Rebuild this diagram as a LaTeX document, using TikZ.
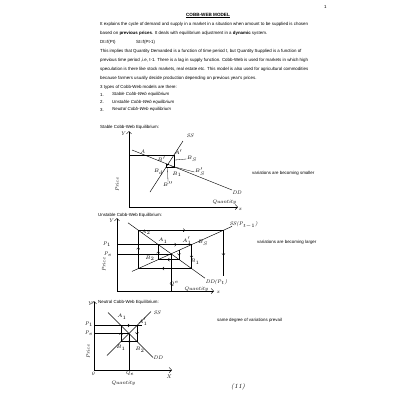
\documentclass[tikz,border=0pt]{standalone}
\usepackage{fontspec}
\newfontfamily\body{Liberation Sans}
\usetikzlibrary{arrows.meta,decorations.markings}
\tikzset{
  txt/.style={font=\body\fontsize{4.4}{5}\selectfont, anchor=west, inner sep=0pt},
  hw/.style={font=\itshape\fontsize{5.2}{6}\selectfont, inner sep=0.3pt},
  hwbig/.style={font=\itshape\fontsize{6.5}{7}\selectfont, inner sep=0.3pt},
  axis/.style={line width=0.5pt, -{Straight Barb[length=2.5pt]}},
  crv/.style={line width=0.45pt},
  web/.style={line width=0.4pt},
  thin/.style={line width=0.3pt},
  midarr/.style={postaction={decorate,decoration={markings,mark=at position 0.55 with {\arrow{Straight Barb[length=1.6pt]}}}}}
}
\begin{document}
\begin{tikzpicture}[x=1pt,y=-1pt]
\fill[white] (0,0) rectangle (400,400);
\useasboundingbox (0,0) rectangle (400,400);

% ---------- text ----------
\node[txt] (pg) at (324,7) {1};
\node[font=\body\bfseries\fontsize{4.6}{5}\selectfont, inner sep=0pt] (title) at (208,15) {COBB-WEB MODEL};
\draw[line width=0.3pt] ([yshift=-0.6pt]title.south west) -- ([yshift=-0.6pt]title.south east);
\node[txt] (l1) at (100,24) {It explains the cycle of demand and supply in a market in a situation when amount to be supplied is chosen};
\node[txt] (l2) at (100,33) {based on \textbf{previous prices}. It deals with equilibrium adjustment in a \textbf{dynamic} system.};
\node[txt] (l3a) at (100,42) {Dt=f(Pt)};
\node[txt] (l3b) at (136,42) {St=f(Pt-1)};
\node[txt] (l4) at (100,51) {This implies that Quantity Demanded is a function of time period t, but Quantity Supplied is a function of};
\node[txt] (l5) at (100,60) {previous time period ,i.e, t-1. There is a lag in supply function. Cobb-Web is used for markets in which high};
\node[txt] (l6) at (100,69) {speculation is there like stock markets, real estate etc. This model is also used for agricultural commodities};
\node[txt] (l7) at (100,78) {because farmers usually decide production depending on previous year's prices.};
\node[txt] (l8) at (100,87) {3 types of Cobb-Web models are there:};
\node[txt] (n1) at (100,94.5) {1.};
\node[txt] (t1) at (112,94.5) {\itshape Stable Cobb-Web equilibrium};
\node[txt] (n2) at (100,102) {2.};
\node[txt] (t2) at (112,102) {\itshape Unstable Cobb-Web equilibrium};
\node[txt] (n3) at (100,109.5) {3.};
\node[txt] (t3) at (112,109.5) {\itshape Neutral Cobb-Web equilibrium};
\node[txt] (h1) at (100,127) {Stable Cobb-Web Equilibrium:};
\node[txt] (h2) at (98,215) {Unstable Cobb-Web Equilibrium:};
\node[txt] (h3) at (98,302) {Neutral Cobb-Web Equilibrium:};
\node[txt] (r1) at (252,173) {variations are becoming smaller};
\node[txt] (r2) at (257,242) {variations are becoming larger};
\node[txt] (r3) at (217,320) {same degree of variations prevail};
\node[hwbig] (pno) at (238,387) {(11)};

% ---------- stable ----------
\coordinate (sO) at (129,207);
\coordinate (sY) at (129,131);
\coordinate (sX) at (238,207);
\draw[axis] (sO) -- (sY);
\draw[axis] (sO) -- (sX);
\node[hw] (sYl) at (123,134) {Y};
\node[hw] (sXl) at (240,209) {x};
\node[hw] (sQl) at (224,202) {Quantity};
\node[hw, rotate=90] (sPl) at (117,185) {Price};
\coordinate (sD1) at (132,150);
\coordinate (sD2) at (232,190);
\coordinate (sS1) at (150,192);
\coordinate (sS2) at (183,141);
\draw[crv] (sD1) -- (sD2);
\draw[crv] (sS1) -- (sS2);
\node[hw] (sDD) at (237,193) {DD};
\node[hw] (sSS) at (190,136) {SS};
\coordinate (sc0) at (129,155);
\coordinate (sc1) at (174,155);
\coordinate (sc2) at (174,166.8);
\coordinate (sc3) at (166.3,166.8);
\coordinate (sc4) at (166.3,163.7);
\coordinate (sc5) at (168.3,163.7);
\coordinate (sc6) at (168.3,164.6);
\draw[web] (sc0) -- (sc1) -- (sc2) -- (sc3) -- (sc4) -- (sc5) -- (sc6);
\node[hw] (sA) at (143,151.5) {A};
\node[hw] (sA1) at (178.5,152) {$A'$};
\node[hw] (sB) at (161.5,159.5) {$B'$};
\node[hw] (sBs) at (192,159) {$B_S$};
\node[hw] (sBs2) at (200,172) {$B_S'$};
\node[hw] (sBd) at (158.5,172) {$B_d$};
\node[hw] (sB1) at (177,174.5) {$B_1$};
\node[hw] (sB2) at (168,184.5) {$B''$};
\coordinate (sL1) at (175,160);
\coordinate (sL2) at (171,166);
\coordinate (sL3) at (167.5,168);
\draw[thin] (sL1) -- (sBs.west);
\draw[thin] (sL2) -- (sBs2.west);
\draw[thin] (sL3) -- (sB2.north);

% ---------- unstable ----------
\coordinate (uO) at (117,291);
\coordinate (uY) at (117,218);
\coordinate (uX) at (214,291);
\draw[axis] (uO) -- (uY);
\draw[axis] (uO) -- (uX);
\node[hw] (uYl) at (111,221) {Y};
\node[hw] (uXl) at (218,292) {x};
\node[hw] (uQl) at (196,289) {Quantity};
\node[hw, rotate=90] (uPl) at (104,265) {Price};
\coordinate (uD1) at (128,222.8);
\coordinate (uD2) at (205,278.2);
\coordinate (uS1) at (132,271.4);
\coordinate (uS2) at (232,226.4);
\draw[crv] (uD1) -- (uD2);
\draw[crv] (uS1) -- (uS2);
\node[hw, anchor=west] (uDD) at (205,282) {DD(P$_t$)};
\node[hw, anchor=west] (uSS) at (229,225) {SS(P$_{t-1}$)};
\coordinate (uE) at (171,253.8);
\coordinate (uc0) at (179,250.2);
\coordinate (uc1) at (179,259.6);
\coordinate (uc2) at (158.2,259.6);
\coordinate (uc3) at (158.2,244.6);
\coordinate (uc4) at (191.5,244.6);
\coordinate (uc5) at (191.5,268.5);
\coordinate (uc6) at (138.2,268.5);
\coordinate (uc7) at (138.2,230.2);
\coordinate (uc8) at (223.4,230.2);
\coordinate (uc9) at (223.4,276);
\draw[web,midarr] (uc0) -- (uc1);
\draw[web,midarr] (uc1) -- (uc2);
\draw[web,midarr] (uc2) -- (uc3);
\draw[web,midarr] (uc3) -- (uc4);
\draw[web,midarr] (uc4) -- (uc5);
\draw[web,midarr] (uc5) -- (uc6);
\draw[web,midarr] (uc6) -- (uc7);
\draw[web,midarr] (uc7) -- (uc8);
\draw[web,midarr] (uc8) -- (uc9);
\coordinate (uP1) at (117,244.6);
\coordinate (uPe) at (117,253.8);
\coordinate (uQe) at (171,291);
\draw[web] (uP1) -- (uc3);
\draw[web] (uPe) -- (uE);
\draw[web] (uE) -- (uQe);
\node[hw] (uP1l) at (107,244) {P$_1$};
\node[hw] (uPel) at (108,254) {P$_e$};
\node[hw] (uQel) at (174,284) {$Q^e$};
\node[hw] (uA2) at (146,232.5) {$A_2$};
\node[hw] (uA1) at (163,241) {$A_1$};
\node[hw] (uA1p) at (187,241) {$A_1'$};
\node[hw] (uBs) at (203,243) {$B_S$};
\node[hw] (uB2) at (150,258.5) {$B_2$};
\node[hw] (uB1) at (195,262) {$B_1$};

% ---------- neutral ----------
\coordinate (nO) at (94,370);
\coordinate (nY) at (94,301);
\coordinate (nX) at (172,370);
\draw[axis] (nO) -- (nY);
\draw[axis] (nO) -- (nX);
\node[hw] (nYl) at (90,304) {Y};
\node[hw] (nXl) at (169,377) {X};
\node[hw] (n0) at (93,374) {0};
\node[hw] (nQl) at (123,383) {Quantity};
\node[hw, rotate=90] (nPl) at (88,352) {Price};
\coordinate (nE) at (129,333.5);
\coordinate (nD1) at (108,312.5);
\coordinate (nD2) at (153,357.5);
\coordinate (nS1) at (107,355.5);
\coordinate (nS2) at (151,311.5);
\draw[crv] (nD1) -- (nD2);
\draw[crv] (nS1) -- (nS2);
\node[hw] (nDD) at (158,358) {DD};
\node[hw] (nSS) at (157,313) {SS};
\coordinate (nc1) at (121,325.5);
\coordinate (nc2) at (137,325.5);
\coordinate (nc3) at (137,341.5);
\coordinate (nc4) at (121,341.5);
\draw[web,midarr] (nc1) -- (nc2);
\draw[web,midarr] (nc2) -- (nc3);
\draw[web,midarr] (nc3) -- (nc4);
\draw[web,midarr] (nc4) -- (nc1);
\coordinate (nP1) at (94,325.5);
\coordinate (nPe) at (94,333.5);
\coordinate (nQe) at (129,370);
\coordinate (nP1e) at (142,325.5);
\draw[web] (nP1) -- (nP1e);
\draw[web] (nPe) -- (nE);
\draw[web] (nE) -- (nQe);
\node[hw] (nP1l) at (89,324) {P$_1$};
\node[hw] (nPel) at (89,333) {P$_e$};
\node[hw] (nQel) at (130,373.5) {Q$_e$};
\node[hw] (nA1) at (122,317) {$A_1$};
\node[hw] (nA1p) at (143,322) {$A_1'$};
\node[hw] (nB1) at (121,348) {$B_1$};
\node[hw] (nB2) at (140,350) {$B_2$};
\end{tikzpicture}
\end{document}
